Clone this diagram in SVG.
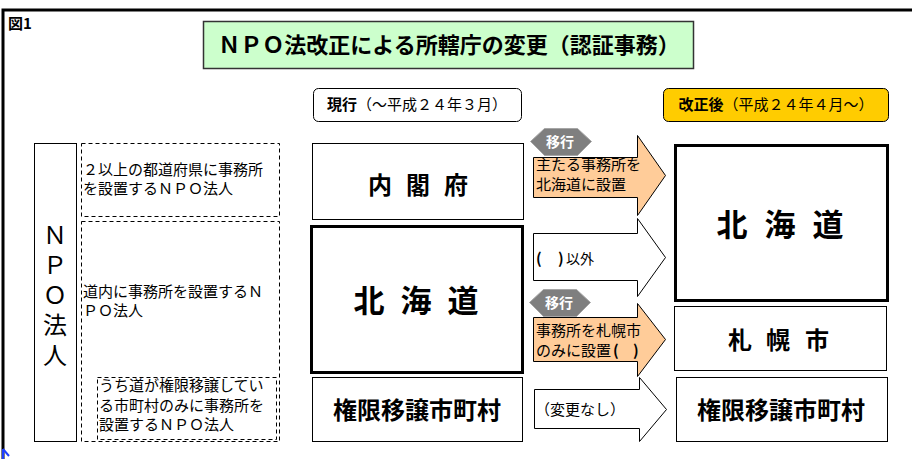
<svg xmlns="http://www.w3.org/2000/svg" width="912" height="459" viewBox="0 0 912 459">
<style>
text{font-family:"Noto Sans CJK JP","Noto Sans",sans-serif;fill:#000}
.b{font-weight:bold}
.s15{font-size:15px}
.box{fill:#fff;stroke:#000;stroke-width:1}
.thick{fill:#fff;stroke:#000;stroke-width:3}
.dash{fill:none;stroke:#000;stroke-width:1;stroke-dasharray:4 3}
.orange{fill:#FFCC99;stroke:#000;stroke-width:1}
.white{fill:#fff;stroke:#000;stroke-width:1}
.hex{fill:#7F7F7F;stroke:#A6A6A6;stroke-width:1}
.hext{font-size:14px;font-weight:bold;fill:#fff}
.mid{text-anchor:middle}
</style>
<rect width="912" height="459" fill="#fff"/>
<path d="M3 459 V10 H912" fill="none" stroke="#000" stroke-width="3"/>
<path d="M3 449 V459 M3 449 L9 456" fill="none" stroke="#1F3FFF" stroke-width="2"/>
<text x="8" y="29" class="b" font-size="15">図1</text>

<g id="title">
<rect x="203.5" y="21.5" width="490" height="47" fill="#CCFFCC" stroke="#333" stroke-width="1.5"/>
<text x="449" y="53" class="b mid" font-size="22">ＮＰＯ法改正による所轄庁の変更（認証事務）</text>
</g>

<g id="current">
<rect x="313.5" y="88.5" width="208" height="33" rx="5" class="box"/>
<text x="417" y="110" class="s15 mid"><tspan class="b">現行</tspan>（～平成２４年３月）</text>
</g>
<g id="after">
<rect x="663.5" y="88.5" width="225" height="33" rx="5" fill="#FFCC00" stroke="#000" stroke-width="1"/>
<text x="776" y="110" class="s15 mid"><tspan class="b">改正後</tspan>（平成２４年４月～）</text>
</g>

<g id="npo">
<rect x="34.5" y="143.5" width="42" height="298" class="box"/>
<text x="55 55 55 55 55" y="233 263 293 323 353" class="mid" font-size="24" dominant-baseline="central">ＮＰＯ法人</text>
</g>

<g id="multi">
<rect x="81.5" y="143.5" width="198" height="73" class="dash"/>
<text x="83" y="175" class="s15">２以上の都道府県に事務所</text>
<text x="83" y="194" class="s15">を設置するＮＰＯ法人</text>
</g>
<g id="dounai">
<rect x="81.5" y="221.5" width="198" height="220" class="dash"/>
<text x="83" y="297" class="s15">道内に事務所を設置するＮ</text>
<text x="83" y="316" class="s15">ＰＯ法人</text>
</g>
<g id="uchi">
<rect x="97.5" y="377.5" width="179" height="62" class="dash"/>
<text x="99" y="391" class="s15">うち道が権限移譲してい</text>
<text x="99" y="411" class="s15">る市町村のみに事務所を</text>
<text x="99" y="430" class="s15">設置するＮＰＯ法人</text>
</g>

<g id="naikakufu">
<rect x="312.5" y="143.5" width="211" height="76" class="box"/>
<text x="380 399 418 437 456" y="183" class="b mid" font-size="24" dominant-baseline="central">内 閣 府</text>
</g>
<g id="hokkaido-now">
<rect x="311.5" y="226.5" width="211" height="146" class="thick"/>
<text x="369 392 416 440 463" y="298" class="b mid" font-size="31" dominant-baseline="central">北 海 道</text>
</g>
<g id="kengen-now">
<rect x="312.5" y="377.5" width="210" height="64" class="box"/>
<text x="417" y="408" class="b mid" font-size="24" dominant-baseline="central">権限移譲市町村</text>
</g>

<g id="hokkaido-after">
<rect x="675.5" y="145.5" width="212" height="155" class="thick"/>
<text x="732 756 780 804 828" y="222" class="b mid" font-size="31" dominant-baseline="central">北 海 道</text>
</g>
<g id="sapporo">
<rect x="674.5" y="306.5" width="212" height="64" class="box"/>
<text x="740 759 778 797 817" y="338" class="b mid" font-size="24" dominant-baseline="central">札 幌 市</text>
</g>
<g id="kengen-after">
<rect x="676.5" y="377.5" width="211" height="64" class="box"/>
<text x="781" y="408" class="b mid" font-size="24" dominant-baseline="central">権限移譲市町村</text>
</g>

<g id="connectors">
<g id="arrow1">
<path d="M533.5 157.5 H637.5 V135.5 L665.5 175.5 L637.5 215.5 V197.5 H533.5 Z" class="orange"/>
<polygon points="530.5,141.5 544.5,128.5 577.5,128.5 591.5,141.5 577.5,155.5 544.5,155.5" class="hex"/>
<text x="560" y="147" class="hext mid">移行</text>
<text x="536" y="170" class="s15">主たる事務所を</text>
<text x="536" y="190" class="s15">北海道に設置</text>
</g>
<g id="arrow2">
<path d="M533.5 233.5 H637.5 V218.5 L665.5 257.5 L637.5 296.5 V280.5 H533.5 Z" class="white"/>
<text y="264" font-size="15"><tspan x="536" class="b">(</tspan><tspan x="558" class="b">)</tspan><tspan x="566" font-size="14">以外</tspan></text>
</g>
<g id="arrow3">
<path d="M533.5 317.5 H637.5 V303.5 L665.5 339.5 L637.5 376.5 V361.5 H533.5 Z" class="orange"/>
<polygon points="529.5,302.5 543.5,289.5 576.5,289.5 590.5,302.5 576.5,316.5 543.5,316.5" class="hex"/>
<text x="559" y="308" class="hext mid">移行</text>
<text x="536" y="336" class="s15">事務所を札幌市</text>
<text x="536" y="356" class="s15">のみに設置<tspan x="613" class="b">(</tspan><tspan x="633" class="b">)</tspan></text>
</g>
<g id="arrow4">
<path d="M534.5 389.5 H639.5 V377.5 L666.5 409.5 L639.5 441.5 V428.5 H534.5 Z" class="white"/>
<text x="535" y="415" class="s15">（変更なし）</text>
</g>
</g>
</svg>
